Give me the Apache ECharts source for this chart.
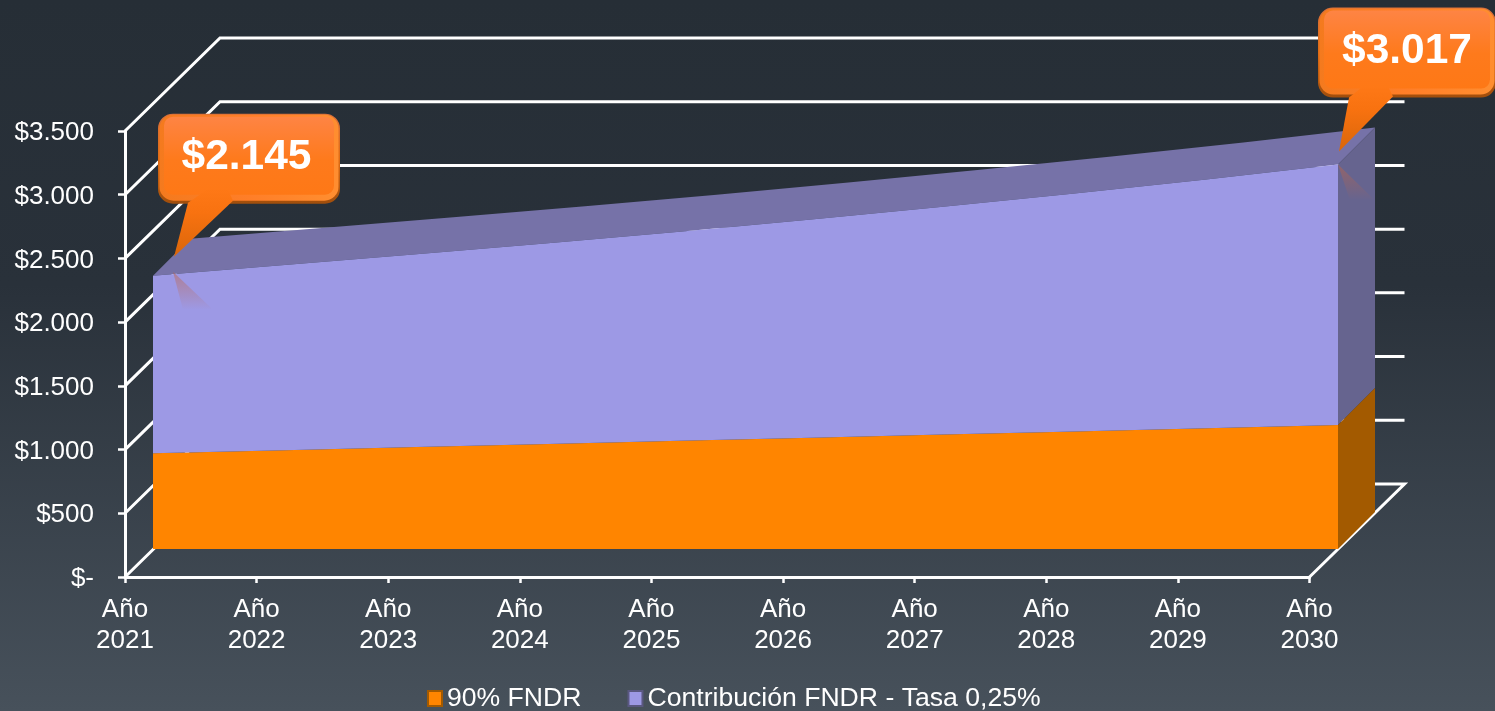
<!DOCTYPE html>
<html><head><meta charset="utf-8">
<style>html,body{margin:0;padding:0;background:#262e36}#c{width:1495px;height:711px}</style>
<script src="https://cdn.jsdelivr.net/npm/echarts@6/dist/echarts.min.js"></script>
</head><body><div id="c"></div>
<script>
var categories = ['Año\n2021','Año\n2022','Año\n2023','Año\n2024','Año\n2025','Año\n2026','Año\n2027','Año\n2028','Año\n2029','Año\n2030'];
var fndr90 = [751, 775, 800, 824, 849, 874, 899, 923, 948, 973];
var contribucion = [1394, 1453, 1513, 1576, 1641, 1711, 1786, 1867, 1952, 2044];
var yTicks = [0, 500, 1000, 1500, 2000, 2500, 3000, 3500];
var yTickLabels = {0:'$-',500:'$500',1000:'$1.000',1500:'$1.500',2000:'$2.000',2500:'$2.500',3000:'$3.000',3500:'$3.500'};
var calloutIndex = [0, 9];
var calloutLabels = ['$2.145', '$3.017'];

var totals = fndr90.map(function (v, i) { return v + contribucion[i]; });
var FONT = '"Liberation Sans", Arial, sans-serif';
var WALL = [95, -93], DEPTH = [37, -37];
function shift(p, d) { return [p[0] + d[0], p[1] + d[1]]; }
function poly(points, fill) {
  return { type: 'polygon', shape: { points: points }, style: { fill: fill } };
}
function vgrad(stops) {
  return new echarts.graphic.LinearGradient(0, 0, 0, 1, stops.map(function (s) { return { offset: s[0], color: s[1] }; }));
}
function hgrad(stops) {
  return new echarts.graphic.LinearGradient(0, 0, 1, 0, stops.map(function (s) { return { offset: s[0], color: s[1] }; }));
}

function renderWalls(params, api) {
  var v = api.value(0), a = api.coord([0, v]), b = api.coord([categories.length - 1, v]);
  var w = shift(a, WALL), e = shift(b, WALL);
  var pts = v === 0 ? [a, w, e, b] : [a, w, e];
  return { type: 'polyline', shape: { points: pts }, style: { stroke: '#fff', lineWidth: 3, fill: null } };
}
function renderFaces(params, api) {
  if (params.dataIndex !== 0) return;
  var n = categories.length - 1;
  var top = totals.map(function (t, i) { return api.coord([i, t]); });
  var back = top.map(function (p) { return shift(p, DEPTH); }).reverse();
  var rb = api.coord([n, 0]), ro = api.coord([n, fndr90[n]]), rt = top[n];
  return { type: 'group', children: [
    poly(top.concat(back), '#7672A8'),
    poly([ro, rt, shift(rt, DEPTH), shift(ro, DEPTH)], '#66648F'),
    poly([rb, ro, shift(ro, DEPTH), shift(rb, DEPTH)], '#A35A00')
  ]};
}
function renderCallout(params, api) {
  var i = params.dataIndex, isFirst = i === 0;
  var p = api.coord([calloutIndex[i], totals[calloutIndex[i]]]);
  var bx = isFirst ? p[0] + 5 : p[0] - 20, by = isFirst ? p[1] - 162 : p[1] - 157, bw = isFirst ? 182 : 178, bh = 90;
  var tail = isFirst
    ? [[p[0] + 21, p[1] - 19], [p[0] + 35, p[1] - 73], [p[0] + 54, p[1] - 86], [p[0] + 75, p[1] - 86], [p[0] + 80, p[1] - 75]]
    : [[p[0] + 1, p[1] - 13], [p[0] + 11, p[1] - 67], [p[0] + 25, p[1] - 78], [p[0] + 50, p[1] - 78], [p[0] + 55, p[1] - 68]];
  var ref = isFirst
    ? [[p[0] + 20, p[1] - 4], [p[0] + 30, p[1] + 34], [p[0] + 60, p[1] + 34]]
    : [[p[0], p[1]], [p[0] + 12, p[1] + 36], [p[0] + 37, p[1] + 36]];
  return { type: 'group', children: [
    poly(ref, vgrad([[0,'rgba(190,100,70,0.5)'],[1,'rgba(190,100,70,0)']])),
    { type: 'rect', shape: { x: bx, y: by, width: bw, height: bh, r: 15 }, style: { fill: vgrad([[0,'#D9703A'],[0.5,'#E06C14'],[1,'#A04E0C']]) } },
    { type: 'rect', shape: { x: bx + 1.5, y: by + 1, width: bw - 3, height: bh - 4, r: 14 }, style: { fill: hgrad([[0,'#F47A1E'],[0.5,'#FF7E28'],[1,'#FF8E30']]) } },
    { type: 'rect', shape: { x: bx + 6, y: by + 3, width: bw - 12, height: bh - 12, r: 9 }, style: { fill: vgrad([[0,'#FE8444'],[0.55,'#FE7A1C'],[1,'#FE7816']]) } },
    poly(tail, vgrad([[0,'#FE7816'],[0.35,'#F87210'],[1,'#D9660A']])),
    { type: 'text', style: { text: calloutLabels[i], x: bx + bw / 2 - (isFirst ? 2.5 : 0), y: by + 44, align: 'center', verticalAlign: 'middle', fill: '#fff', font: 'bold 42.5px ' + FONT } }
  ]};
}

var chart = echarts.init(document.getElementById('c'), null, { renderer: 'canvas' });
chart.setOption({
  animation: false,
  backgroundColor: new echarts.graphic.LinearGradient(0, 0, 0, 1, [
    {offset:0,color:'#262E36'},{offset:0.4,color:'#29313A'},{offset:1,color:'#47515B'}]),
  textStyle: { fontFamily: FONT },
  grid: [
    { left: 125, top: 131, width: 1184.5, height: 446 },
    { left: 153, top: 103, width: 1185, height: 446 }
  ],
  xAxis: [
    { type: 'category', gridIndex: 0, data: categories, boundaryGap: false,
      axisLine: { lineStyle: { color: '#fff', width: 3 } },
      axisTick: { alignWithLabel: true, length: 6, lineStyle: { color: '#fff', width: 2.5 } },
      axisLabel: { interval: 0, color: '#fff', fontSize: 26, lineHeight: 31, margin: 17, fontFamily: FONT, hideOverlap: false },
      splitLine: { show: false } },
    { type: 'category', gridIndex: 1, data: categories, boundaryGap: false, show: false }
  ],
  yAxis: [
    { type: 'value', gridIndex: 0, min: 0, max: 3500, interval: 500,
      axisLine: { show: true, lineStyle: { color: '#fff', width: 3 } },
      axisTick: { show: true, length: 7, lineStyle: { color: '#fff', width: 2.5 } },
      axisLabel: { color: '#fff', fontSize: 26, margin: 31, verticalAlign: 'top', lineHeight: 4, fontFamily: FONT, formatter: function (v) { return yTickLabels[v]; } },
      splitLine: { show: false } },
    { type: 'value', gridIndex: 1, min: 0, max: 3500, interval: 500, show: false, splitLine: { show: false } }
  ],
  legend: {
    left: 422, top: 680, itemWidth: 14, itemHeight: 15, itemGap: 46,
    textStyle: { color: '#fff', fontSize: 26.6, fontFamily: FONT },
    data: [
      { name: '90% FNDR', icon: 'rect', itemStyle: { color: '#FF8500', borderColor: '#A35A00', borderWidth: 2 } },
      { name: 'Contribución FNDR - Tasa 0,25%', icon: 'rect', itemStyle: { color: '#9D99E5', borderColor: '#5A5880', borderWidth: 2 } }
    ]
  },
  series: [
    { type: 'custom', name: 'walls', xAxisIndex: 0, yAxisIndex: 0, z: 1, silent: true,
      data: yTicks.map(function (v) { return [v]; }), renderItem: renderWalls },
    { type: 'custom', name: 'faces', xAxisIndex: 1, yAxisIndex: 1, z: 2, silent: true,
      data: [[0]], renderItem: renderFaces },
    { type: 'line', name: '90% FNDR', xAxisIndex: 1, yAxisIndex: 1, stack: 'a', z: 3, showSymbol: false, silent: true,
      data: fndr90, lineStyle: { width: 0 }, itemStyle: { color: '#FF8500' }, areaStyle: { color: '#FF8500', opacity: 1 } },
    { type: 'line', name: 'Contribución FNDR - Tasa 0,25%', xAxisIndex: 1, yAxisIndex: 1, stack: 'a', z: 3, showSymbol: false, silent: true,
      data: contribucion, lineStyle: { width: 0 }, itemStyle: { color: '#9D99E5' }, areaStyle: { color: '#9D99E5', opacity: 1 } },
    { type: 'custom', name: 'callouts', xAxisIndex: 1, yAxisIndex: 1, z: 5, silent: true,
      data: calloutIndex.map(function (i) { return [i]; }), renderItem: renderCallout }
  ]
});
</script></body></html>
